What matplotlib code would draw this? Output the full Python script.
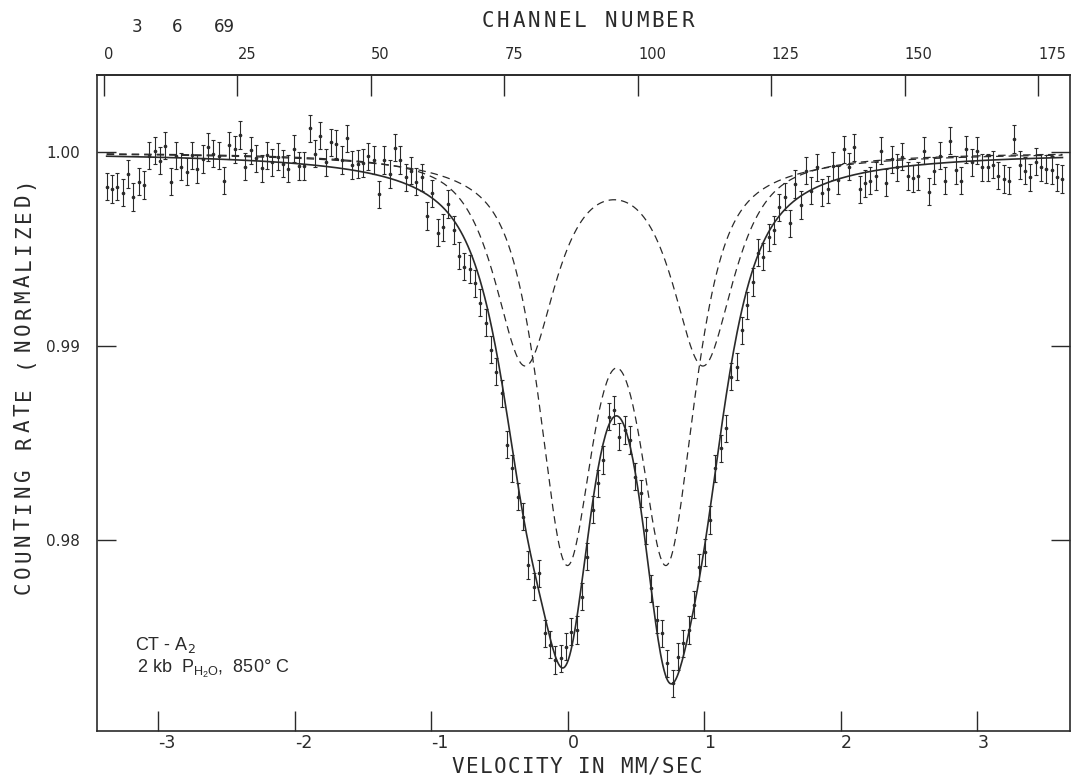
import matplotlib
matplotlib.use('Agg')
import matplotlib.pyplot as plt
import numpy as np

W, H = 1072, 780

# calibration: velocity = vel0 + dv * channel
vel0 = -3.3993
dv = 0.03912

# normalized counting rate, one value per channel (0..179)
counts = [
  0.99820, 0.99809, 0.99820, 0.99790, 0.99887, 0.99768, 0.99847, 0.99830, 0.99981, 1.00007,
  0.99955, 1.00032, 0.99847, 0.99981, 0.99924, 0.99899, 0.99983, 0.99912, 0.99964, 1.00026,
  0.99991, 0.99981, 0.99852, 1.00034, 1.00015, 1.00088, 0.99924, 1.00009, 0.99967, 0.99916,
  0.99983, 0.99947, 0.99976, 0.99940, 0.99914, 1.00017, 0.99928, 0.99928, 1.00122, 0.99991,
  1.00084, 0.99947, 1.00050, 1.00041, 0.99959, 1.00070, 0.99933, 0.99938, 0.99943, 0.99978,
  0.99959, 0.99783, 0.99959, 0.99887, 1.00022, 0.99959, 0.99869, 0.99904, 0.99847, 0.99869,
  0.99670, 0.99787, 0.99584, 0.99612, 0.99732, 0.99598, 0.99466, 0.99409, 0.99397, 0.99323,
  0.99222, 0.99120, 0.98980, 0.98868, 0.98756, 0.98490, 0.98370, 0.98223, 0.98120, 0.97871,
  0.97759, 0.97828, 0.97519, 0.97459, 0.97381, 0.97390, 0.97450, 0.97527, 0.97536, 0.97708,
  0.97914, 0.98155, 0.98292, 0.98412, 0.98636, 0.98670, 0.98532, 0.98567, 0.98515, 0.98326,
  0.98241, 0.98050, 0.97751, 0.97588, 0.97519, 0.97364, 0.97261, 0.97398, 0.97467, 0.97536,
  0.97665, 0.97860, 0.97936, 0.98103, 0.98370, 0.98473, 0.98576, 0.98842, 0.98893, 0.99080,
  0.99210, 0.99330, 0.99480, 0.99460, 0.99560, 0.99598, 0.99715, 0.99770, 0.99632, 0.99835,
  0.99727, 0.99904, 0.99801, 0.99921, 0.99790, 0.99808, 0.99928, 0.99856, 1.00014, 0.99924,
  1.00024, 0.99808, 0.99839, 0.99852, 0.99876, 1.00007, 0.99842, 0.99962, 0.99921, 0.99976,
  0.99876, 0.99864, 0.99876, 1.00007, 0.99795, 0.99904, 0.99981, 0.99852, 1.00058, 0.99907,
  0.99852, 1.00015, 0.99947, 1.00007, 0.99921, 0.99921, 0.99935, 0.99878, 0.99861, 0.99852,
  1.00067, 0.99933, 0.99904, 0.99869, 0.99950, 0.99921, 0.99912, 0.99907, 0.99869, 0.99861,
]
sigma = 0.0007

# fitted quadrupole doublets: line positions (mm/s), HWHM (mm/s),
# depth, lorentzian fraction of the pseudo-voigt line shape
inner_pos = [-0.01, 0.723]
inner_hwhm = 0.245
inner_depth = 0.0199
inner_eta = 0.70
outer_pos = [-0.315, 0.99]
outer_hwhm = 0.265
outer_depth = 0.0107
outer_eta = 0.79

vel_ticks = [-3, -2, -1, 0, 1, 2, 3]
chan_ticks = [0, 25, 50, 75, 100, 125, 150, 175]
rate_ticks = [0.98, 0.99, 1.00]

ink = '#2a2a2a'


def doublet(v, pos, hwhm, depth, eta):
  out = np.zeros_like(v)
  for p in pos:
    u = ((v - p) / hwhm)**2
    out += depth * (eta / (1 + u) + (1 - eta) * np.exp(-np.log(2) * u))
  return out


def px(x, y):
  return x / W, 1 - y / H


def plotter_text(fig, s, x, y, pitch, size, vertical=False):
  # old pen-plotter lettering: fixed pitch per character
  for i, ch in enumerate(s):
    if ch == ' ':
      continue
    if vertical:
      fig.text(*px(x, y - i * pitch), ch, rotation=90, ha='center', va='center',
               fontsize=size, color=ink, family='DejaVu Sans Mono')
    else:
      fig.text(*px(x + i * pitch, y), ch, ha='center', va='center',
               fontsize=size, color=ink, family='DejaVu Sans Mono')


def main():
  plt.rcParams['font.family'] = ['DejaVu Sans']
  plt.rcParams['axes.unicode_minus'] = False

  fig = plt.figure(figsize=(W / 100, H / 100), dpi=100)
  ax = fig.add_axes([97 / W, 1 - 731 / H, (1070 - 97) / W, (731 - 75) / H])

  n = len(counts)
  vel = vel0 + dv * (np.arange(n) + 0.5)
  v = np.linspace(vel[0], vel[-1], 800)
  inner = doublet(v, inner_pos, inner_hwhm, inner_depth, inner_eta)
  outer = doublet(v, outer_pos, outer_hwhm, outer_depth, outer_eta)

  ax.plot(v, 1 - outer, ls=(0, (6, 4)), color=ink, lw=0.9)
  ax.plot(v, 1 - inner, ls=(0, (6, 4)), color=ink, lw=0.9)
  ax.plot(v, 1 - inner - outer, color=ink, lw=1.2)
  ax.errorbar(vel, counts, yerr=sigma, fmt='o', ms=1.6, color=ink,
              elinewidth=0.8, capsize=1.6, capthick=0.8)

  ax.set_xlim(-3.4505, 3.678)
  ax.set_ylim(0.97015, 1.00397)

  ax.set_xticks(vel_ticks)
  ax.set_xticklabels([str(t) for t in vel_ticks], ha='left')
  ax.set_yticks(rate_ticks)
  ax.set_yticklabels(['%.2f' % t for t in rate_ticks])
  ax.tick_params(axis='x', direction='in', length=14.5, width=1.0, pad=2,
                 labelsize=12.5, colors=ink)
  ax.tick_params(axis='y', direction='in', length=14, width=1.0, pad=12,
                 labelsize=11, colors=ink, right=True)
  for s in ax.spines.values():
    s.set_linewidth(1.2)
    s.set_color(ink)

  top = ax.secondary_xaxis('top', functions=(lambda x: (x - vel0) / dv,
                                              lambda c: vel0 + dv * c))
  top.set_xticks(chan_ticks)
  top.set_xticklabels([str(c) for c in chan_ticks], ha='left')
  top.tick_params(direction='in', length=15, width=1.0, pad=9,
                  labelsize=10.5, colors=ink)
  top.spines['top'].set_linewidth(1.2)
  top.spines['top'].set_color(ink)

  plotter_text(fig, 'CHANNEL NUMBER', 488, 21, 15.4, 15)
  plotter_text(fig, 'VELOCITY IN MM/SEC', 458, 767, 14.0, 15)
  plotter_text(fig, 'COUNTING RATE (NORMALIZED)', 24, 588, 16.2, 15, vertical=True)

  fig.text(*px(137, 27), '3', fontsize=12, color=ink, ha='center', va='center')
  fig.text(*px(177, 27), '6', fontsize=12, color=ink, ha='center', va='center')
  fig.text(*px(224, 27), '69', fontsize=12, color=ink, ha='center', va='center')

  ax.text(0.039, 0.124, 'CT - A$_2$', transform=ax.transAxes, fontsize=13,
          family='Liberation Sans', color=ink)
  ax.text(0.041, 0.088, '2 kb  P$_{\\mathregular{H_2O}}$,  850° C', transform=ax.transAxes,
          fontsize=13, family='Liberation Sans', color=ink)

  fig.savefig('out.png', dpi=100)


if __name__ == '__main__':
  main()
